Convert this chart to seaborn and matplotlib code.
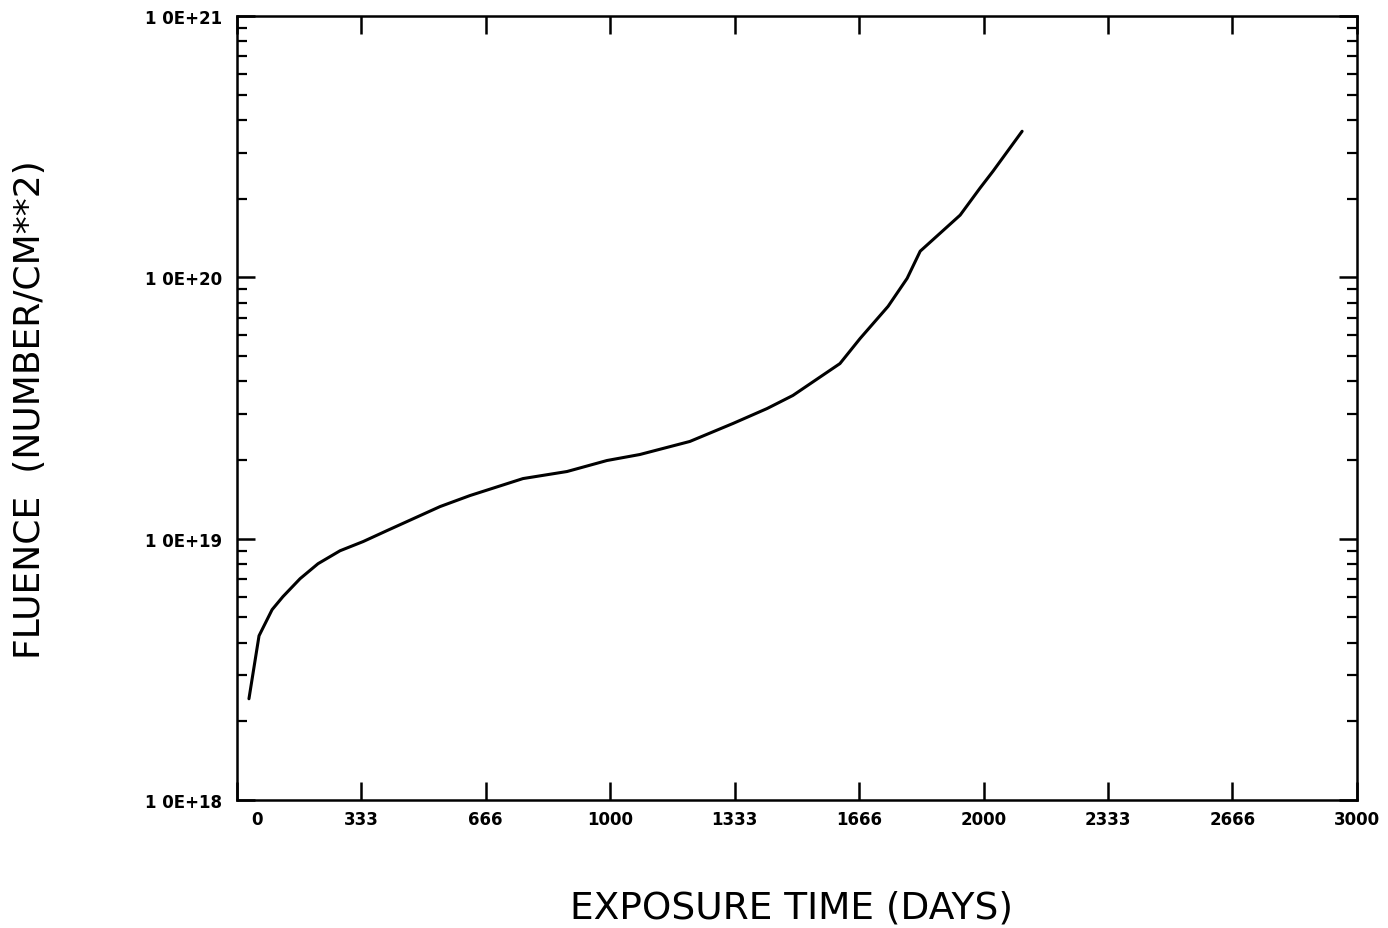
import numpy as np
import pandas as pd
import matplotlib
matplotlib.use("Agg")
import matplotlib.pyplot as plt
import matplotlib.ticker as mticker
from matplotlib.transforms import ScaledTranslation
import seaborn as sns

# ---- data ----
days = [32, 59, 94, 123, 169, 217, 276, 338, 402, 544, 624, 766, 884, 991,
        1079, 1213, 1329, 1420, 1489, 1615, 1669, 1744, 1795, 1830, 1937,
        1990, 2025, 2103]
fluence = [2.44e18, 4.25e18, 5.35e18, 6.0e18, 7.03e18, 8.02e18, 8.99e18,
           9.75e18, 1.074e19, 1.327e19, 1.462e19, 1.698e19, 1.807e19,
           1.991e19, 2.099e19, 2.355e19, 2.761e19, 3.148e19, 3.532e19,
           4.677e19, 5.834e19, 7.745e19, 9.91e19, 1.259e20, 1.730e20,
           2.193e20, 2.547e20, 3.622e20]

x_ticks = [0, 333, 666, 1000, 1333, 1666, 2000, 2333, 2666, 3000]
x_tick_labels = ["0", "333", "666", "1000", "1333", "1666", "2000", "2333", "2666", "3000"]
y_ticks = [1e18, 1e19, 1e20, 1e21]
y_tick_labels = ["1 0E+18", "1 0E+19", "1 0E+20", "1 0E+21"]

x_title = "EXPOSURE TIME (DAYS)"
y_title = "FLUENCE  (NUMBER/CM**2)"

df = pd.DataFrame({"days": days, "fluence": fluence})

sns.set_style("ticks")
plt.rcParams["font.family"] = ["DejaVu Sans"]
for key in ["text.color", "axes.labelcolor", "xtick.color", "ytick.color", "axes.edgecolor"]:
    plt.rcParams[key] = "black"

fig = plt.figure(figsize=(13.88, 9.29), dpi=100)
ax = fig.add_axes([237 / 1388, 1 - 801 / 929, 1120 / 1388, 784 / 929])

sns.lineplot(data=df, x="days", y="fluence", ax=ax, color="black",
             linewidth=2.2, sort=False, estimator=None)

ax.set_yscale("log")
ax.set_xlim(0, 3000)
ax.set_ylim(1e18, 1e21)

ax.set_xticks(x_ticks)
ax.set_xticklabels(x_tick_labels, fontsize=12, fontweight="bold")
ax.set_yticks(y_ticks)
ax.set_yticklabels(y_tick_labels, fontsize=12, fontweight="bold")
ax.yaxis.set_minor_locator(mticker.LogLocator(base=10, subs=np.arange(2, 10)))
ax.yaxis.set_minor_formatter(mticker.NullFormatter())
ax.xaxis.set_minor_locator(mticker.NullLocator())

ax.tick_params(axis="both", which="major", direction="in", length=13,
               width=1.8, top=True, right=True, color="black", labelcolor="black")
ax.tick_params(axis="y", which="minor", direction="in", length=7,
               width=1.6, right=True, left=True, color="black")
ax.tick_params(axis="x", which="major", pad=7)
ax.tick_params(axis="y", which="major", pad=11)

for sp in ax.spines.values():
    sp.set_visible(True)
    sp.set_linewidth(1.8)
    sp.set_color("black")

# shift the "0" label right like in the reference
lbl0 = ax.get_xticklabels()[0]
lbl0.set_transform(lbl0.get_transform() + ScaledTranslation(0.2, 0, fig.dpi_scale_trans))

ax.set_xlabel(x_title, fontsize=27, color="black")
ax.xaxis.set_label_coords(0.4955, -0.1365)
ax.xaxis.label.set_va("center")
ax.set_ylabel(y_title, fontsize=26, color="black")
ax.yaxis.set_label_coords(-0.1848, 0.4987)
ax.yaxis.label.set_va("center")

fig.savefig("out.png", dpi=100, facecolor="white")
